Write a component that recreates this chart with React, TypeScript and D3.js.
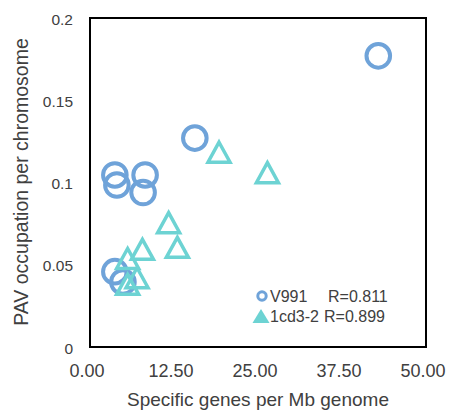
import React from 'react'
import * as d3 from 'd3'

// V991 series (circles)
const v991X = [42.9, 15.6, 3.7, 4.0, 8.2, 7.9, 3.7, 4.9]
const v991Y = [0.177, 0.127, 0.1046, 0.0985, 0.1046, 0.0939, 0.0458, 0.0395]

// 1cd3-2 series (triangles)
const cd3X = [19.2, 26.4, 11.7, 13.0, 7.8, 5.6, 7.0, 5.6]
const cd3Y = [0.119, 0.1066, 0.0762, 0.0612, 0.06, 0.0544, 0.0427, 0.0387]

const xTicks = [0, 12.5, 25, 37.5, 50]
const yTicks = [0, 0.05, 0.1, 0.15, 0.2]
const yTickLabels = ['0', '0.05', '0.1', '0.15', '0.2']

const seriesNames = ['V991', '1cd3-2']
const seriesR = ['R=0.811', 'R=0.899']

const blue = '#6fa3d9'
const teal = '#6dd3d3'
const textColor = '#404040'
const font = 'Liberation Sans, Arial, sans-serif'

const tri = (w: number, h: number) => `M0,${-h / 2}L${w / 2},${h / 2}L${-w / 2},${h / 2}Z`

export default function App() {
  const x = d3.scaleLinear().domain([0, 50]).range([90, 426])
  const y = d3.scaleLinear().domain([0, 0.2]).range([347, 18])

  return (
    <svg width={450} height={416} style={{ position: 'absolute', left: 0, top: 0, background: '#fff' }} fontFamily={font}>
      <rect x={x(0)} y={y(0.2)} width={x(50) - x(0)} height={y(0) - y(0.2)} fill="none" stroke="#000" strokeWidth={2} />

      {yTicks.map((t, i) => (
        <text key={t} x={73} y={y(t) + 1} textAnchor="end" dominantBaseline="central" fontSize={15.5} fill={textColor}>
          {yTickLabels[i]}
        </text>
      ))}
      {xTicks.map(t => (
        <text key={t} x={x(t) - 3} y={377} textAnchor="middle" fontSize={18} fill={textColor}>
          {t.toFixed(2)}
        </text>
      ))}

      <text x={258} y={406} textAnchor="middle" fontSize={19} fill={textColor}>Specific genes per Mb genome</text>
      <text transform="translate(28,182) rotate(-90)" textAnchor="middle" fontSize={19.5} fill={textColor}>PAV occupation per chromosome</text>

      {v991X.map((v, i) => (
        <circle key={'c' + i} cx={x(v)} cy={y(v991Y[i])} r={11.8} fill="none" stroke={blue} strokeWidth={4} />
      ))}
      {cd3X.map((v, i) => (
        <path key={'t' + i} d={tri(22, 20)} transform={`translate(${x(v)},${y(cd3Y[i]) + 1})`} fill="none" stroke={teal} strokeWidth={3.5} strokeLinejoin="miter" />
      ))}

      <circle cx={262} cy={296} r={4.2} fill="none" stroke={blue} strokeWidth={3} />
      <text x={270} y={302} fontSize={16} fill={textColor}>{seriesNames[0]}</text>
      <text x={328} y={302} fontSize={16} fill={textColor}>{seriesR[0]}</text>
      <path d={tri(17, 14)} transform="translate(261,316)" fill={teal} />
      <text x={270} y={322} fontSize={16} fill={textColor}>{seriesNames[1]}</text>
      <text x={324} y={322} fontSize={16} fill={textColor}>{seriesR[1]}</text>
    </svg>
  )
}
